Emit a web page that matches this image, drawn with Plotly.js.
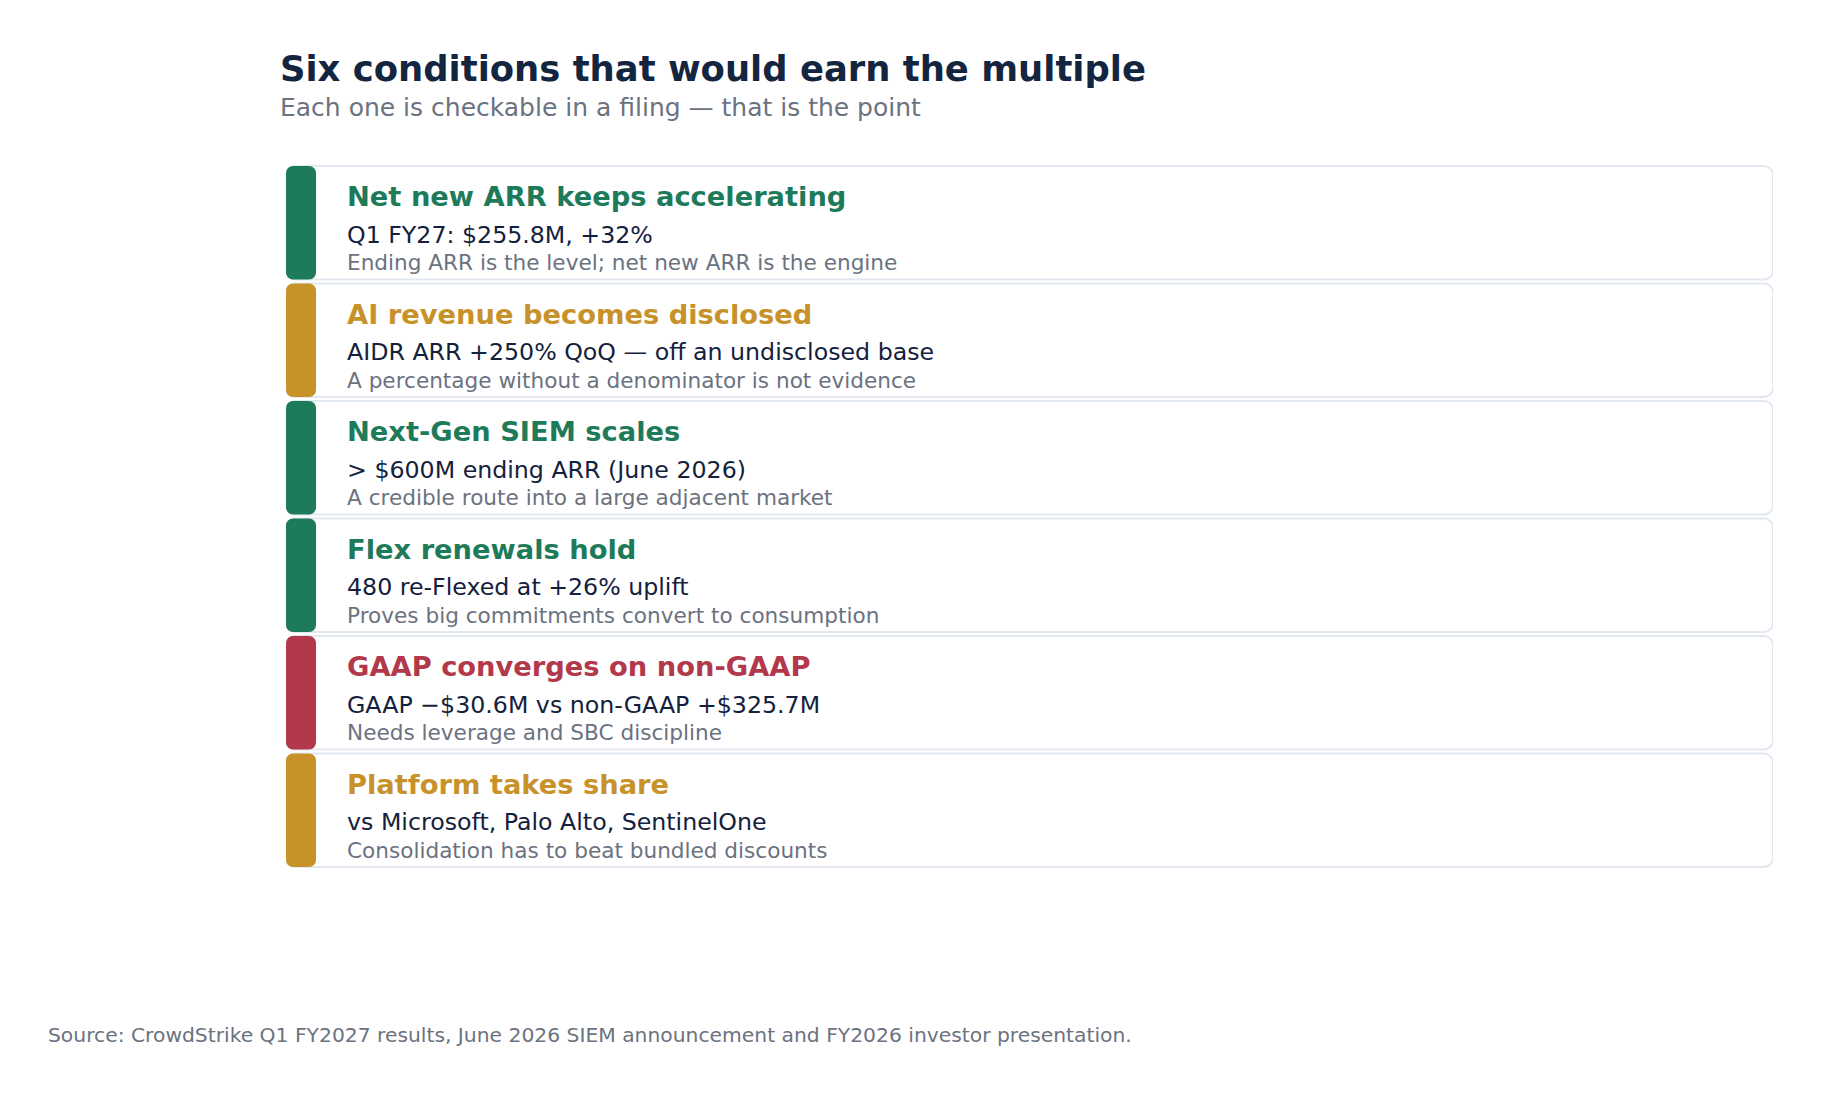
<!DOCTYPE html>
<html>
<head>
<meta charset="utf-8">
<script src="https://cdn.plot.ly/plotly-3.0.1.min.js"></script>
<style>
  html, body { margin: 0; padding: 0; background: #ffffff; }
  #chart { width: 1829px; height: 1093px; }
</style>
</head>
<body>
<div id="chart"></div>
<script>
// Conditions, top to bottom
const headings = [
  'Net new ARR keeps accelerating',
  'AI revenue becomes disclosed',
  'Next-Gen SIEM scales',
  'Flex renewals hold',
  'GAAP converges on non-GAAP',
  'Platform takes share'
];
const evidence = [
  'Q1 FY27: $255.8M, +32%',
  'AIDR ARR +250% QoQ \u2014 off an undisclosed base',
  '> $600M ending ARR (June 2026)',
  '480 re-Flexed at +26% uplift',
  'GAAP \u2212$30.6M vs non-GAAP +$325.7M',
  'vs Microsoft, Palo Alto, SentinelOne'
];
const notes = [
  'Ending ARR is the level; net new ARR is the engine',
  'A percentage without a denominator is not evidence',
  'A credible route into a large adjacent market',
  'Proves big commitments convert to consumption',
  'Needs leverage and SBC discipline',
  'Consolidation has to beat bundled discounts'
];
const status = ['on track', 'unproven', 'on track', 'on track', 'off track', 'unproven'];

const TITLE = 'Six conditions that would earn the multiple';
const SUBTITLE = 'Each one is checkable in a filing \u2014 that is the point';
const SOURCE = 'Source: CrowdStrike Q1 FY2027 results, June 2026 SIEM announcement and FY2026 investor presentation.';

// status -> colour
const statusColor = { 'on track': '#1e7b5a', 'unproven': '#c8922a', 'off track': '#b2384b' };
const FONT = 'DejaVu Sans, Verdana, sans-serif';

const rows = headings.map((_, i) => i);
const colors = status.map(s => statusColor[s]);
const CARD_LEN = 100;   // card spans the whole x range
const STRIP = 2.02;     // coloured strip width, x units
const TEXT_X = 3.95;
const BAR_W = 0.965;

// card background (plotly rounds all four corners)
const cards = {
  type: 'bar', orientation: 'h',
  y: rows, x: rows.map(() => CARD_LEN), base: 0,
  width: BAR_W,
  marker: { color: '#ffffff', line: { color: '#e2e8f0', width: 2 }, cornerradius: 9 },
  hoverinfo: 'skip', showlegend: false
};
// coloured status strip
const strip = {
  type: 'bar', orientation: 'h',
  y: rows, x: rows.map(() => STRIP), base: 0,
  width: BAR_W,
  marker: { color: colors, line: { width: 0 }, cornerradius: 7 },
  hoverinfo: 'skip', showlegend: false
};

const annotations = [];
rows.forEach(i => {
  annotations.push({
    xref: 'x', yref: 'y', x: TEXT_X, y: i, xanchor: 'left', yanchor: 'middle',
    yshift: 26, showarrow: false, text: '<b>' + headings[i] + '</b>',
    font: { family: FONT, size: 27.3, color: colors[i] }
  });
  annotations.push({
    xref: 'x', yref: 'y', x: TEXT_X, y: i, xanchor: 'left', yanchor: 'middle',
    yshift: -12, showarrow: false, text: evidence[i],
    font: { family: FONT, size: 23.7, color: '#14213d' }
  });
  annotations.push({
    xref: 'x', yref: 'y', x: TEXT_X, y: i, xanchor: 'left', yanchor: 'middle',
    yshift: -40, showarrow: false, text: notes[i],
    font: { family: FONT, size: 21.6, color: '#6b7280' }
  });
});

annotations.push({
  xref: 'paper', yref: 'paper', x: 0, y: 1.136, xshift: -8.5, xanchor: 'left', yanchor: 'middle',
  showarrow: false, text: '<b>' + TITLE + '</b>',
  font: { family: FONT, size: 35.4, color: '#13253f' }
});
annotations.push({
  xref: 'paper', yref: 'paper', x: 0, y: 1.08, xshift: -8.5, xanchor: 'left', yanchor: 'middle',
  showarrow: false, text: SUBTITLE,
  font: { family: FONT, size: 25, color: '#6b7280' }
});
annotations.push({
  xref: 'paper', yref: 'paper', x: 0, y: -0.236, xshift: -240, xanchor: 'left', yanchor: 'middle',
  showarrow: false, text: SOURCE,
  font: { family: FONT, size: 20.3, color: '#6b7280' }
});

const layout = {
  width: 1829, height: 1093,
  margin: { l: 286, r: 56, t: 163.5, b: 224 },
  paper_bgcolor: '#ffffff', plot_bgcolor: '#ffffff',
  barmode: 'overlay',
  xaxis: { range: [0, CARD_LEN], visible: false, fixedrange: true },
  yaxis: { range: [5.5, -0.5], visible: false, fixedrange: true },
  font: { family: FONT },
  showlegend: false,
  annotations: annotations
};

Plotly.newPlot('chart', [cards, strip], layout, { displayModeBar: false, staticPlot: true });
</script>
</body>
</html>
